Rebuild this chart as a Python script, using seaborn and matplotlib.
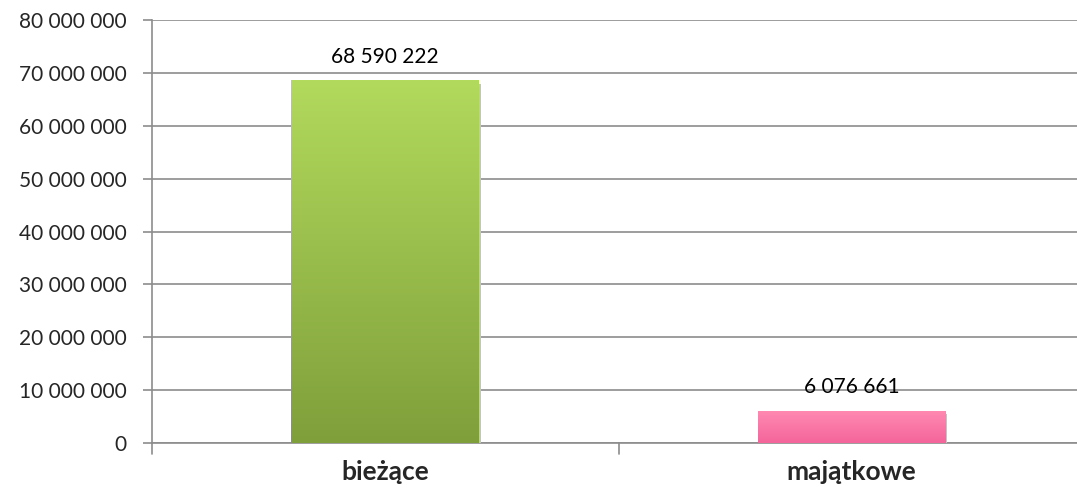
import matplotlib
matplotlib.use("Agg")
import matplotlib.pyplot as plt
import matplotlib.colors as mcolors
import numpy as np
import pandas as pd
import seaborn as sns

categories = ["bieżące", "majątkowe"]
values = [68590222, 6076661]
colors_top = ["#b2da5c", "#ff8ab2"]
colors_bottom = ["#7f9f3b", "#f4659a"]
yticks = [0, 10000000, 20000000, 30000000, 40000000, 50000000, 60000000, 70000000, 80000000]


def fmt(v):
    return f"{int(v):,}".replace(",", " ")


df = pd.DataFrame({"cat": categories, "val": values})

sns.set_style("white")
plt.rcParams["font.family"] = ["Lato", "DejaVu Sans"]

fig = plt.figure(figsize=(10.77, 4.95), dpi=100)
ax = fig.add_axes([152 / 1077, 52 / 495, 933 / 1077, 423 / 495])

sns.barplot(data=df, x="cat", y="val", hue="cat", palette=colors_top, legend=False,
            width=0.403, ax=ax, zorder=3, edgecolor="none")

# vertical gradient on each bar, plus a soft shadow
for i, p in enumerate(ax.patches):
    x0, y0 = p.get_x(), p.get_y()
    w, h = p.get_width(), p.get_height()
    cmap = mcolors.LinearSegmentedColormap.from_list("g", [colors_bottom[i], colors_top[i]])
    grad = np.linspace(0, 1, 256).reshape(-1, 1)
    im = ax.imshow(grad, extent=[x0, x0 + w, y0, y0 + h], origin="lower", aspect="auto",
                   cmap=cmap, zorder=4)
    im.set_clip_path(p)
    ax.add_patch(plt.Rectangle((x0 + 0.003, y0 - 600000), w, h, color="#c4c4c4",
                               zorder=3, lw=0))
    ax.text(x0 + w / 2, values[i] + 2600000, fmt(values[i]), ha="center", va="bottom",
            fontsize=15, color="#000000", zorder=5)

ax.set_xlim(-0.5, 1.5)
ax.set_ylim(0, 80000000)
ax.set_yticks(yticks)
ax.set_yticklabels([fmt(t) for t in yticks], fontsize=15)
ax.yaxis.grid(True, color="#8c8c8c", linewidth=1.2, zorder=0)
ax.set_axisbelow(True)

ax.set_xticks([0, 1])
ax.set_xticklabels(categories, fontsize=19, fontweight="bold")
ax.tick_params(axis="x", length=0, pad=12)
ax.tick_params(axis="y", length=6.5, width=1.2, color="#8c8c8c", direction="out", pad=12,
               left=True)
for b in [-0.5, 0.5, 1.5]:
    ax.plot([b, b], [0, -2000000], color="#8c8c8c", lw=1.2, clip_on=False, zorder=1)

for s in ["top", "right"]:
    ax.spines[s].set_visible(False)
ax.spines["left"].set_color("#8c8c8c")
ax.spines["bottom"].set_color("#8c8c8c")
ax.spines["left"].set_linewidth(1.2)
ax.spines["bottom"].set_linewidth(1.2)
ax.set_xlabel("")
ax.set_ylabel("")

fig.savefig("out.png", dpi=100)
